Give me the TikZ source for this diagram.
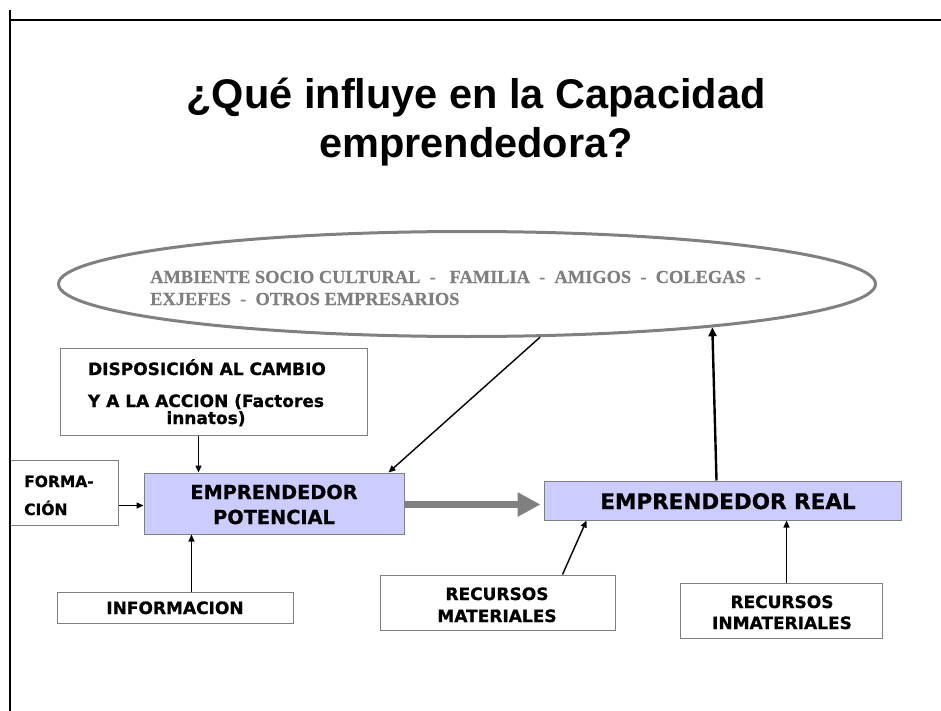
\documentclass[tikz,border=0pt]{standalone}
\usepackage{fontspec}
\setmainfont{Liberation Sans}
\newfontfamily\verd[BoldFeatures={FakeBold=0.8}]{DejaVu Sans}
\newfontfamily\tms[BoldFeatures={FakeBold=0.4}]{Liberation Serif}
\usetikzlibrary{arrows.meta,calc,shapes.geometric}
\definecolor{lav}{HTML}{CCCCFF}
\definecolor{bgray}{HTML}{808080}
\definecolor{egray}{HTML}{7F7F7F}
\tikzset{
  wbox/.style={draw=bgray, line width=1pt, fill=white, inner sep=0pt},
  pbox/.style={draw=bgray, line width=1pt, fill=lav, inner sep=0pt},
  lbl/.style={anchor=base, inner sep=0pt, font=\verd\bfseries\fontsize{17}{20}\selectfont},
  conn/.style={line width=1.4pt, -{Triangle[length=7pt,width=6pt]}},
  bigconn/.style={draw=bgray, line width=7.5pt, -{Triangle[length=23pt,width=23pt]}},
  ttl/.style={anchor=base, inner sep=0pt, font=\bfseries\fontsize{41.5}{48}\selectfont},
  envtxt/.style={anchor=base west, inner sep=0pt, text=egray, font=\tms\bfseries\fontsize{18.4}{21}\selectfont},
}
\begin{document}
\begin{tikzpicture}[x=1pt,y=-1pt]
\useasboundingbox (0,0) rectangle (941,711);
% title
\node[ttl] (t1) at (476,109) {¿Qué influye en la Capacidad};
\node[ttl] (t2) at (476,158) {emprendedora?};
% environment ellipse
\node[ellipse, draw=bgray, line width=3pt, inner sep=0pt, minimum width=817pt, minimum height=105pt] (env) at (467,284) {};
\node[envtxt] (envt1) at (150,283) {AMBIENTE SOCIO CULTURAL\ \ -\ \ \ FAMILIA\ \ -\ \ AMIGOS\ \ -\ \ COLEGAS\ \ -};
\node[envtxt] (envt2) at (150,305) {EXJEFES\ \ -\ \ OTROS EMPRESARIOS};
% boxes
\node[wbox, minimum width=307pt, minimum height=87pt] (disp) at (213.5,391.5) {};
\node[lbl] (dispt1) at (207,375) {DISPOSICIÓN AL CAMBIO};
\node[lbl] (dispt2) at (206,407) {Y A LA ACCION (Factores};
\node[lbl] (dispt3) at (206,424) {innatos)};
\node[wbox, minimum width=108pt, minimum height=65pt] (form) at (64,492.5) {};
\node[lbl, anchor=base west, font=\verd\bfseries\fontsize{15.5}{18}\selectfont] (formt1) at (24,487) {FORMA-};
\node[lbl, anchor=base west, font=\verd\bfseries\fontsize{15.5}{18}\selectfont] (formt2) at (24,515) {CIÓN};
\node[pbox, minimum width=260pt, minimum height=61pt] (ep) at (274,503.5) {};
\node[lbl, font=\verd\bfseries\fontsize{19.3}{22}\selectfont] (ept1) at (274,499) {EMPRENDEDOR};
\node[lbl, font=\verd\bfseries\fontsize{19.3}{22}\selectfont] (ept2) at (274,524) {POTENCIAL};
\node[wbox, minimum width=236pt, minimum height=31pt] (info) at (175,607.5) {};
\node[lbl] (infot) at (175,614) {INFORMACION};
\node[pbox, minimum width=357pt, minimum height=39pt] (er) at (722.5,500.5) {};
\node[lbl, font=\verd\bfseries\fontsize{21.5}{24}\selectfont] (ert) at (728,509) {EMPRENDEDOR REAL};
\node[wbox, minimum width=235pt, minimum height=55pt] (rmat) at (497.5,602.5) {};
\node[lbl] (rmatt1) at (497,600) {RECURSOS};
\node[lbl] (rmatt2) at (497,622) {MATERIALES};
\node[wbox, minimum width=202pt, minimum height=55pt] (rinm) at (781,610.5) {};
\node[lbl] (rinmt1) at (782,608) {RECURSOS};
\node[lbl] (rinmt2) at (782,629) {INMATERIALES};
% connectors
\draw[conn] ($(disp.south west)+(139,0)$) -- ($(ep.north west)+(55,0)$);
\draw[conn] ($(form.south east)+(0,-20)$) -- ($(ep.south west)+(0,-29)$);
\draw[conn] ($(info.north west)+(135,0)$) -- ($(ep.south west)+(48,0)$);
\draw[conn] (env.-36) -- ($(ep.north east)+(-16,0)$);
\draw[bigconn, shorten >=3pt] ($(ep.east)+(0,1)$) -- ($(er.west)+(0,4)$);
\draw[conn, line width=2.4pt, -{Triangle[length=9pt,width=8pt]}] ($(er.north west)+(173,0)$) -- (env.-10);
\draw[conn] ($(rmat.north west)+(183,0)$) -- ($(er.south west)+(43,0)$);
\draw[conn] ($(rinm.north west)+(107,0)$) -- ($(er.south west)+(243,0)$);
% frame
\draw[line width=1.5pt] (10,20) -- (941,20);
\draw[line width=2pt] (10,10) -- (10,711);
\end{tikzpicture}
\end{document}
